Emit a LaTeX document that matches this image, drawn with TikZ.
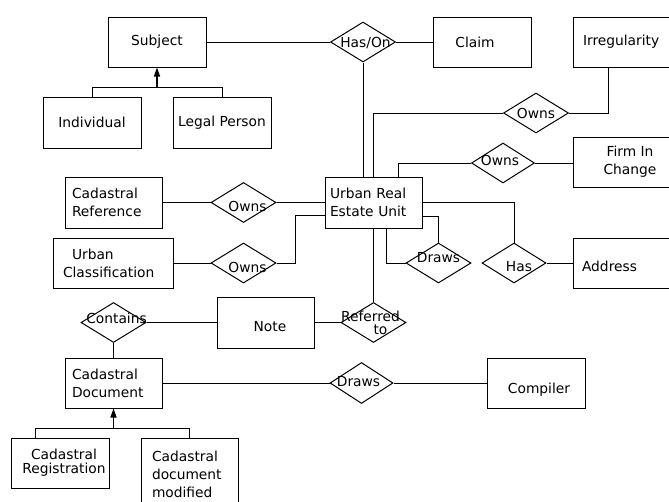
\documentclass[tikz,border=0pt]{standalone}
\usepackage{fontspec}
\setmainfont{DejaVu Sans}
\usetikzlibrary{shapes.geometric,arrows.meta,calc}

% single-line label moved by (#1 right, #2 down) from the node centre
\newcommand{\offtext}[3]{\makebox[0pt]{\hspace*{#1}\hspace*{#1}\raisebox{\dimexpr-#2-5pt\relax}[0pt][0pt]{#3}}}

\begin{document}
\begin{tikzpicture}[x=1pt,y=-1pt,
  font=\fontsize{13.8}{18}\selectfont,
  ent/.style={draw, line width=1pt, rectangle, minimum width=98pt, minimum height=50pt, inner sep=0pt, align=center},
  entl/.style={ent, align=left, text width=#1},
  rel/.style={draw, line width=1pt, diamond, minimum width=65pt, minimum height=40pt, inner sep=0pt},
  conn/.style={line width=1pt},
  isa/.style={line width=1.5pt, -{Triangle[length=9pt,width=6pt]}}
]
\useasboundingbox (0,0) rectangle (669,501);

% entities
\node[ent] (subj) at (157,42) {Subject};
\node[ent, minimum height=51pt] (ind) at (92,122.5) {Individual};
\node[ent, minimum height=51pt] (lp) at (222,122.5) {Legal Person};
\node[ent] (claim) at (482,42) {\offtext{-7pt}{0pt}{Claim}};
\node[entl=78pt] (irr) at (622,42) {Irregularity};
\node[ent] (firm) at (622,162) {\hspace*{16pt}Firm In\\\hspace*{16pt}Change};
\node[entl=87pt, minimum width=97pt, minimum height=51pt] (ure) at (373.5,202.5) {Urban Real\\Estate Unit};
\node[entl=83pt, minimum width=97pt, minimum height=51pt] (cref) at (113.5,202.5) {Cadastral\\Reference};
\node[entl=100pt, minimum width=120pt] (ucl) at (113,263) {\hspace*{9pt}Urban\\Classification};
\node[ent] (addr) at (622,263) {\offtext{-12.5pt}{3pt}{Address}};
\node[ent, minimum width=97pt, minimum height=51pt] (note) at (265.5,322.5) {\offtext{4.5pt}{4pt}{Note}};
\node[entl=83pt, minimum width=97pt] (cdoc) at (113.5,383) {Cadastral\\Document};
\node[ent] (comp) at (536,383) {\offtext{3pt}{5pt}{Compiler}};
\node[ent, font=\fontsize{13.8}{12.5}\selectfont] (creg) at (60,463) {\makebox[0pt]{\hspace*{8pt}\shortstack{Cadastral\\Registration}}};
\node[entl=75pt, minimum width=97pt, minimum height=72pt, anchor=north] (cdm) at (189.5,438) {Cadastral\\document\\modified};

% relationships
\node[rel] (hason) at (363,42) {\offtext{2.5pt}{0pt}{Has/On}};
\node[rel] (ownsI) at (536,113) {\offtext{0pt}{0pt}{Owns}};
\node[rel, minimum width=63pt] (ownsF) at (503,163) {\offtext{-3pt}{-3pt}{Owns}};
\node[rel] (ownsR) at (243.5,202.5) {\offtext{4pt}{4pt}{Owns}};
\node[rel] (ownsU) at (243.5,263) {\offtext{4pt}{4pt}{Owns}};
\node[rel, minimum width=64pt] (has) at (514,263) {\offtext{5pt}{3pt}{Has}};
\node[rel] (draws1) at (438.5,263) {\offtext{0pt}{-6pt}{Draws}};
\node[rel] (refto) at (373.5,322.5) {\makebox[0pt]{\hspace*{-6pt}\shortstack{Referred\\\hspace*{20pt}to}}};
\node[rel] (contains) at (113.5,322.5) {\offtext{3pt}{-4pt}{Contains}};
\node[rel, minimum width=63pt, minimum height=41pt] (draws2) at (361.5,383) {\offtext{-3pt}{-2pt}{Draws}};

% connectors
\draw[conn] (subj) -- (hason);
\draw[conn] (hason) -- (claim);
\draw[conn] (hason.south) -- (hason.south |- ure.north);
\draw[conn] ($(irr.south west)+(36,0)$) |- (ownsI.east);
\draw[conn] (ownsI.west) -| (ure.north);
\draw[conn] (ownsF.west) -| ($(ure.north)+(24.5,0)$);
\draw[conn] (ownsF.east) -- (ownsF.east -| firm.west);
\draw[conn] (cref) -- (ownsR);
\draw[conn] (ownsR) -- (ure);
\draw[conn] (ucl) -- (ownsU);
\draw[conn] (ownsU.east) -- ++(19,0) |- ($(ure.west)+(0,12.5)$);
\draw[conn] (ure.east) -| (has.north);
\draw[conn] (has) -- (addr);
\draw[conn] ($(ure.east)+(0,13.5)$) -| (draws1.north);
\draw[conn] ($(ure.south)+(12.5,0)$) |- (draws1.west);
\draw[conn] (ure.south) -- (refto.north);
\draw[conn] (note) -- (refto);
\draw[conn] (contains) -- (note);
\draw[conn] (contains.south) -- (cdoc.north);
\draw[conn] (cdoc) -- (draws2);
\draw[conn] (draws2) -- (comp);

% generalisations
\coordinate (j1) at ($(subj.south)+(0,20)$);
\draw[conn] (ind.north) |- (j1) -| (lp.north);
\draw[isa] (j1) -- (subj.south);
\coordinate (j2) at ($(cdoc.south)+(0,20)$);
\draw[conn] ($(creg.north west)+(25,0)$) |- (j2) -| (cdm.north);
\draw[isa] (j2) -- (cdoc.south);
\end{tikzpicture}
\end{document}
